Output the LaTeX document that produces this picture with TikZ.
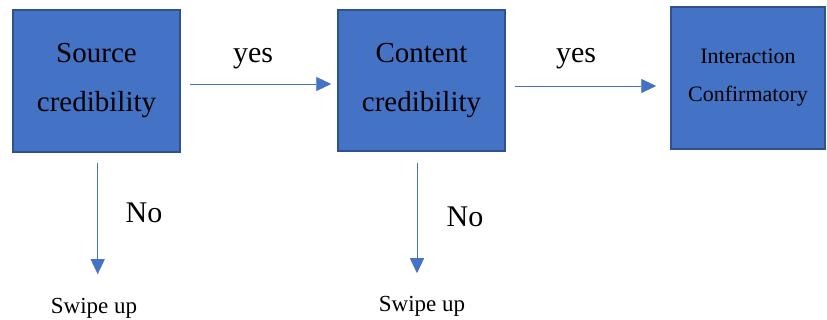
\documentclass[tikz,border=0pt]{standalone}
\usepackage{fontspec}
\setmainfont{Liberation Serif}
\usetikzlibrary{arrows.meta}
\definecolor{boxblue}{HTML}{4472C4}
\definecolor{boxedge}{HTML}{2F528F}
\tikzset{
    stage/.style={draw=boxedge, fill=boxblue, line width=1.5pt, align=center, inner sep=0pt},
    flow/.style={-{Triangle[length=15pt,width=14pt]}, draw=boxblue, line width=0.9pt}
}
\begin{document}
\begin{tikzpicture}[x=1pt, y=-1pt]
            \useasboundingbox (0,0) rectangle (827,320);
            \node[stage, minimum width=167pt, minimum height=142pt, font=\fontsize{29}{49}\selectfont] (source) at (96.5,81) {Source\\credibility};
            \node[stage, minimum width=167pt, minimum height=141pt, font=\fontsize{29}{49}\selectfont] (content) at (421.5,80.5) {Content\\credibility};
            \node[stage, minimum width=154pt, minimum height=142pt, font=\fontsize{22}{38}\selectfont] (interact) at (748,78) {Interaction\\Confirmatory};
            \node[anchor=base, font=\fontsize{30}{36}\selectfont] (yes1) at (253,63) {yes};
            \node[anchor=base, font=\fontsize{30}{36}\selectfont] (yes2) at (576,63) {yes};
            \node[anchor=base, font=\fontsize{30}{36}\selectfont] (no1) at (144,223) {No};
            \node[anchor=base, font=\fontsize{30}{36}\selectfont] (no2) at (465,227) {No};
            \node[anchor=base, font=\fontsize{23}{28}\selectfont] (swipe1) at (94,313) {Swipe up};
            \node[anchor=base, font=\fontsize{23}{28}\selectfont] (swipe2) at (422,312) {Swipe up};
            \coordinate (a1) at (190,84);
            \coordinate (a2) at (515,86);
            \draw[flow] (a1) -- (a1 -| content.west) [shorten >=6pt];
            \draw[flow] (a2) -- (a2 -| interact.west) [shorten >=14pt];
            \draw[flow] (source.south -| 97.7,0) ++(0,10) coordinate (d1) -- (d1 |- swipe1.north) [shorten >=20pt];
            \draw[flow] (content.south -| 417,0) ++(0,11) coordinate (d2) -- (d2 |- swipe2.north) [shorten >=20pt];
        \end{tikzpicture}
\end{document}
